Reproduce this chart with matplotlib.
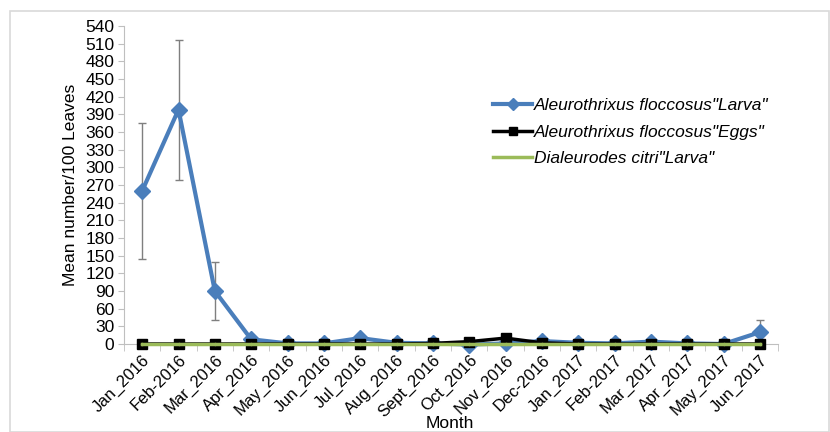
import matplotlib.pyplot as plt
from matplotlib.patches import Rectangle

plt.rcParams['font.family'] = ['Liberation Sans', 'DejaVu Sans']

months = ["Jan_2016", "Feb-2016", "Mar_2016", "Apr_2016", "May_2016", "Jun_2016",
          "Jul_2016", "Aug_2016", "Sept_2016", "Oct_2016", "Nov_2016", "Dec-2016",
          "Jan_2017", "Feb-2017", "Mar_2017", "Apr_2017", "May_2017", "Jun_2017"]
larva = [260, 398, 90, 8, 1, 1, 10, 2, 1, -1, 1, 5, 2, 1, 4, 1, 0, 20]
larva_err = [116, 119, 49, 0, 0, 0, 0, 0, 0, 0, 0, 0, 0, 0, 0, 0, 0, 20]
eggs = [0, 0, 0, 0, 0, 0, 0, 0, 1, 4, 10, 2, 0, 0, 0, 0, 0, 0]
citri = [0] * 18

fig = plt.figure(figsize=(8.3, 4.32), dpi=100)
ax = fig.add_axes([124 / 830, 1 - 344 / 432, 654 / 830, 318 / 432])

# frame around the whole chart
fig.patches.append(Rectangle((10 / 830, 0), 819 / 830, 421 / 432, transform=fig.transFigure,
                             fill=False, edgecolor='#d9d9d9', linewidth=1.2))

x = list(range(len(months)))
ax.errorbar(x, larva, yerr=larva_err, fmt='none', ecolor='#7f7f7f', elinewidth=1,
            capsize=3, zorder=2)
h1, = ax.plot(x, larva, color='#4a7ebb', linewidth=3, marker='D', markersize=8, zorder=3,
              clip_on=False, label='Aleurothrixus floccosus"Larva"')
h2, = ax.plot(x, eggs, color='black', linewidth=2.5, marker='s', markersize=7, zorder=4,
              clip_on=False, label='Aleurothrixus floccosus"Eggs"')
h3, = ax.plot(x, citri, color='#9bbb59', linewidth=2.5, marker='.', markersize=3, zorder=6,
              clip_on=False, label='Dialeurodes citri"Larva"')

ax.set_xlim(-0.5, len(months) - 0.5)
ax.set_ylim(0, 540)
ax.set_yticks(range(0, 541, 30))
ax.set_xticks(x)
ax.set_xticklabels(months, rotation=45, ha='right', rotation_mode='anchor', fontsize=12)
ax.set_xticks([i - 0.5 for i in range(len(months) + 1)], minor=True)
ax.tick_params(axis='x', which='major', length=0, pad=6)
ax.tick_params(axis='x', which='minor', length=5, color='#bfbfbf', direction='out')
ax.tick_params(axis='y', length=4, color='#bfbfbf', labelsize=12.5, pad=3)

for s in ['top', 'right']:
    ax.spines[s].set_visible(False)
ax.spines['left'].set_color('#bfbfbf')
ax.spines['bottom'].set_color('#bfbfbf')

ax.set_ylabel('Mean number/100 Leaves', fontsize=12.5, labelpad=5)
fig.text(450 / 830, 1 - 424 / 432, 'Month', fontsize=12.5, ha='center', va='center')

leg = ax.legend(handles=[h1, h2, h3], loc='upper left',
                bbox_to_anchor=((493 - 124) / 654, 1 - (98 - 26) / 318), frameon=False,
                prop={'style': 'italic', 'size': 12.5}, handlelength=2.25, handletextpad=0.1,
                labelspacing=0.65, borderpad=0, borderaxespad=0, markerscale=0.8)

fig.savefig('out.png', dpi=100)
